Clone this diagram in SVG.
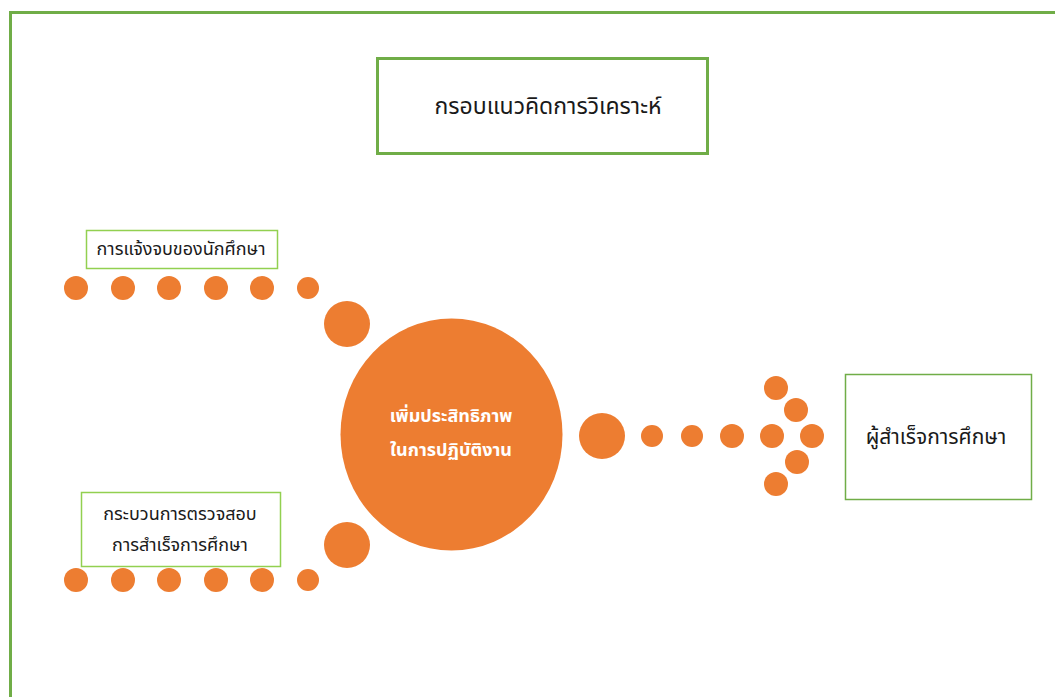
<svg xmlns="http://www.w3.org/2000/svg" width="1055" height="697" viewBox="0 0 1055 697">
<style>
.dot{fill:#ED7D31}
.lbl{font-family:"Noto Sans Thai","Noto Sans","DejaVu Sans",sans-serif;fill:#1a1a1a;text-anchor:middle}
.box{fill:#fff;stroke:#70AD47}
.lbox{fill:#fff;stroke:#92D050;stroke-width:1.5}
</style>
<rect width="1055" height="697" fill="#fff"/>
<path d="M10.5 697 V12.5 H1055" fill="none" stroke="#70AD47" stroke-width="3"/>
<g id="title">
<rect class="box" x="377.5" y="58.5" width="330" height="95" stroke-width="3"/>
<text class="lbl" x="548" y="114" font-size="23">กรอบแนวคิดการวิเคราะห์</text>
</g>
<g id="connectors">
<circle class="dot" cx="76" cy="288" r="12"/>
<circle class="dot" cx="123" cy="288" r="12"/>
<circle class="dot" cx="169" cy="288" r="12"/>
<circle class="dot" cx="216" cy="288" r="12"/>
<circle class="dot" cx="262" cy="288" r="12"/>
<circle class="dot" cx="308" cy="288" r="11"/>
<circle class="dot" cx="347" cy="324" r="23"/>
<circle class="dot" cx="76" cy="580" r="12"/>
<circle class="dot" cx="123" cy="580" r="12"/>
<circle class="dot" cx="169" cy="580" r="12"/>
<circle class="dot" cx="216" cy="580" r="12"/>
<circle class="dot" cx="262" cy="580" r="12"/>
<circle class="dot" cx="308" cy="580" r="11"/>
<circle class="dot" cx="347" cy="545" r="23"/>
<circle class="dot" cx="602" cy="436" r="23"/>
<circle class="dot" cx="652" cy="436" r="11"/>
<circle class="dot" cx="692" cy="436" r="11"/>
<circle class="dot" cx="732" cy="436" r="12"/>
<circle class="dot" cx="772" cy="436" r="12"/>
<circle class="dot" cx="812" cy="436" r="12"/>
<circle class="dot" cx="776" cy="388" r="12"/>
<circle class="dot" cx="796" cy="410" r="12"/>
<circle class="dot" cx="797" cy="462" r="12"/>
<circle class="dot" cx="776" cy="484" r="12"/>
</g>
<g id="center">
<ellipse class="dot" cx="451.5" cy="434.5" rx="111" ry="116"/>
<text class="lbl" x="451" y="422" font-size="18" font-weight="bold" style="fill:#fff">เพิ่มประสิทธิภาพ</text>
<text class="lbl" x="451" y="456" font-size="18" font-weight="bold" style="fill:#fff">ในการปฏิบัติงาน</text>
</g>
<g id="notify">
<rect class="lbox" x="86.5" y="230.5" width="191" height="38"/>
<text class="lbl" x="181" y="255" font-size="18">การแจ้งจบของนักศึกษา</text>
</g>
<g id="process">
<rect class="lbox" x="81.5" y="492.5" width="199" height="74"/>
<text class="lbl" x="180" y="520" font-size="18">กระบวนการตรวจสอบ</text>
<text class="lbl" x="180" y="551" font-size="18">การสำเร็จการศึกษา</text>
</g>
<g id="graduate">
<rect class="box" x="845.5" y="374.5" width="186" height="125" stroke-width="1.5"/>
<text class="lbl" x="936" y="444" font-size="21">ผู้สำเร็จการศึกษา</text>
</g>
</svg>
